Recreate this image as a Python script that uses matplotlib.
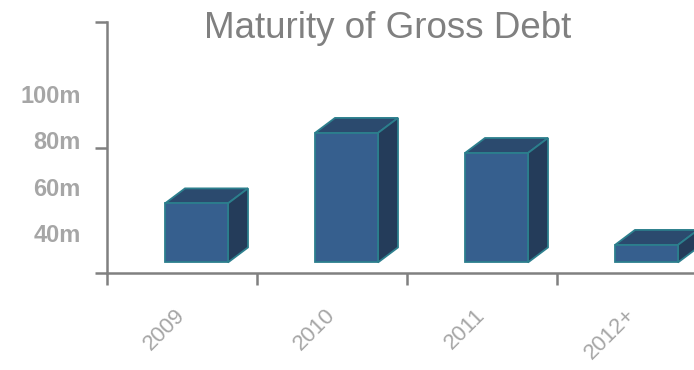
#!/usr/bin/env python3
# Maturity of Gross Debt - pseudo 3D column chart

import numpy as np
import matplotlib.pyplot as plt
from matplotlib.patches import Polygon
from matplotlib.transforms import blended_transform_factory

# -------------------------------------------------------------
# Data (values in millions)
years = ['2009', '2010', '2011', '2012+']
debt = [52.9, 83.1, 74.5, 35.1]
base = 27.6                      # where the columns start
ytick_vals = [40, 60, 80, 100]
ytick_text = ['40m', '60m', '80m', '100m']

# -------------------------------------------------------------
plt.rcParams['font.family'] = ['Liberation Sans', 'DejaVu Sans']

gray = '#808080'
label_gray = '#a6a6a6'
front_c = '#365f8e'
top_c = '#2b4a6e'
side_c = '#243c5a'
edge_c = '#2c7f8d'

fig = plt.figure(figsize=(6.94, 3.70), dpi=100)
ax = fig.add_axes([107/694, 1 - 273/370, 1 - 107/694, 251/370])

y0, y1 = 23.07, 130.65
ax.set_xlim(0, 587/150)
ax.set_ylim(y0, y1)

# column geometry (in data units)
off = 58/150         # front face left edge inside a category
w = 63/150           # front face width
dx = 20/150          # depth to the right
dy = 15/2.333        # depth upwards

for i, v in enumerate(debt):
  x = i + off
  ax.bar(x, v - base, width=w, bottom=base, align='edge',
         color=front_c, edgecolor=edge_c, linewidth=1.3, zorder=3)
  top = Polygon([(x, v), (x + dx, v + dy), (x + w + dx, v + dy), (x + w, v)],
                closed=True, facecolor=top_c, edgecolor=edge_c,
                linewidth=1.3, zorder=2)
  side = Polygon([(x + w, base), (x + w + dx, base + dy),
                  (x + w + dx, v + dy), (x + w, v)],
                 closed=True, facecolor=side_c, edgecolor=edge_c,
                 linewidth=1.3, zorder=2)
  ax.add_patch(top)
  ax.add_patch(side)

# spines
for s in ['top', 'right']:
  ax.spines[s].set_visible(False)
for s in ['left', 'bottom']:
  ax.spines[s].set_color(gray)
  ax.spines[s].set_linewidth(1.8)
  ax.spines[s].set_zorder(4)

# y axis: labels without marks, marks without labels
ax.set_yticks(ytick_vals)
ax.set_yticklabels(ytick_text)
ax.tick_params(axis='y', which='major', length=0, pad=19,
               labelsize=17, labelcolor=label_gray)
for t in ax.get_yticklabels():
  t.set_fontweight('bold')
ax.set_yticks([y0, (y0 + y1)/2, y1], minor=True)
ax.tick_params(axis='y', which='minor', length=8.6, width=1.8, color=gray)

# x axis
ax.set_xticks(range(len(years)))
ax.set_xticklabels([])
ax.tick_params(axis='x', which='major', length=8.6, width=1.8, color=gray)

trans = blended_transform_factory(ax.transData, ax.transAxes)
for i, yr in enumerate(years):
  ax.text(i + 0.5, -0.155, yr, transform=trans, rotation=45,
          rotation_mode='anchor', ha='right', va='center',
          fontsize=16, color=label_gray)

fig.text(388/694, 1 - 38/370, 'Maturity of Gross Debt', ha='center',
         va='baseline', fontsize=26.5, color=gray)

plt.savefig('out.png', dpi=100)
